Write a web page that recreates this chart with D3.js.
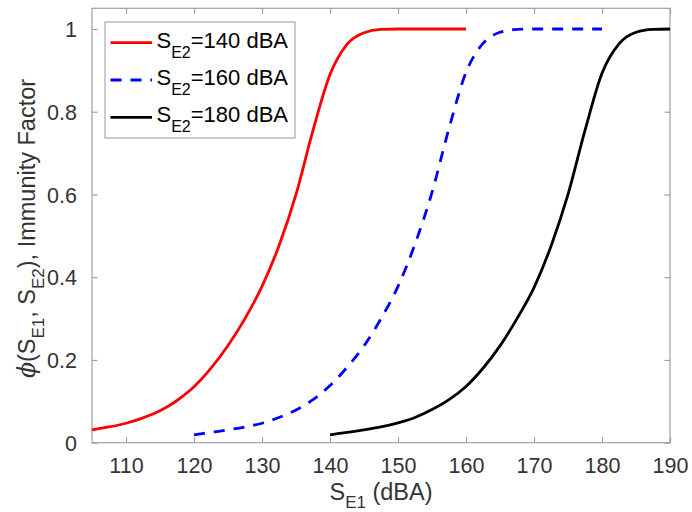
<!DOCTYPE html>
<html><head><meta charset="utf-8">
<script src="https://cdn.jsdelivr.net/npm/d3@7"></script>
<style>body{margin:0;background:#fff}</style>
</head><body><svg id="c" width="692" height="512"></svg>
<script>
const xTicks=[110,120,130,140,150,160,170,180,190];
const yTicks=[0,0.2,0.4,0.6,0.8,1];
const yTickLabels=["0","0.2","0.4","0.6","0.8","1"];
const seriesLabels=["140","160","180"];
const seriesColors=["#ff0000","#0000ff","#000000"];
const se140X=[105,107.5,110,112.5,115,117.5,120,122.5,125,127.5,130,132.5,135,137.5,140,142.5,145,147.5,150,152.5,155,157.5,160];
const se140Y=[0.031,0.038,0.047,0.060,0.077,0.102,0.135,0.180,0.235,0.300,0.378,0.476,0.600,0.755,0.890,0.963,0.991,0.999,1,1,1,1,1];
const se160X=[120,122.5,125,127.5,130,132.5,135,137.5,140,142.5,145,147.5,150,152.5,155,157.5,160,162.5,165,167.5,170,172.5,175,177.5,180];
const se160Y=[0.019,0.025,0.031,0.038,0.047,0.061,0.079,0.104,0.138,0.182,0.234,0.300,0.378,0.480,0.605,0.760,0.895,0.965,0.992,0.999,1,1,1,1,1];
const se180X=[140,142.5,145,147.5,150,152.5,155,157.5,160,162.5,165,167.5,170,172.5,175,177.5,180,182.5,185,187.5,190];
const se180Y=[0.019,0.025,0.031,0.038,0.048,0.061,0.080,0.104,0.136,0.180,0.234,0.300,0.375,0.475,0.600,0.755,0.893,0.964,0.992,0.999,1];

const svg=d3.select("#c");
const L=92,R=670,T=8.3,B=442.7;
const x=d3.scaleLinear().domain([105,190]).range([L,R]);
const y=d3.scaleLinear().domain([0,1.05]).range([B,T]);
const axisCol="#a0a0a0", txtCol="#333";
const font="'Liberation Sans', Arial, Helvetica, sans-serif";

svg.append("rect").attr("x",L).attr("y",T).attr("width",R-L).attr("height",B-T)
  .attr("fill","none").attr("stroke",axisCol).attr("stroke-width",1.2);

const tl=5.5;
const gx=svg.append("g").attr("transform",`translate(0,${B})`)
  .call(d3.axisBottom(x).tickValues(xTicks).tickSizeInner(-tl).tickSizeOuter(0).tickPadding(15).tickFormat(d3.format("d")));
const gxt=svg.append("g").attr("transform",`translate(0,${T})`)
  .call(d3.axisTop(x).tickValues(xTicks).tickSizeInner(-tl).tickSizeOuter(0).tickFormat(""));
const gy=svg.append("g").attr("transform",`translate(${L},0)`)
  .call(d3.axisLeft(y).tickValues(yTicks).tickSizeInner(-tl).tickSizeOuter(0).tickPadding(15).tickFormat((d,i)=>yTickLabels[i]));
const gyr=svg.append("g").attr("transform",`translate(${R},0)`)
  .call(d3.axisRight(y).tickValues(yTicks).tickSizeInner(-tl).tickSizeOuter(0).tickFormat(""));
[gx,gxt,gy,gyr].forEach(g=>{
  g.attr("font-size",null).attr("font-family",null);
  g.select(".domain").remove();
  g.selectAll(".tick line").attr("stroke",axisCol).attr("stroke-width",1.2);
  g.selectAll("text").attr("fill",txtCol).attr("font-family",font).attr("font-size",21.5);
});
gy.selectAll("text").attr("dy","0.36em");
gx.selectAll("text").attr("dy","0.71em");

const line=d3.line().x(d=>x(d[0])).y(d=>y(d[1])).curve(d3.curveMonotoneX);
const series=[
  {xs:se140X,ys:se140Y,dash:null},
  {xs:se160X,ys:se160Y,dash:"11,9"},
  {xs:se180X,ys:se180Y,dash:null}
];
series.forEach((s,i)=>{
  svg.append("path").datum(s.xs.map((v,j)=>[v,s.ys[j]]))
    .attr("d",line).attr("fill","none").attr("stroke",seriesColors[i])
    .attr("stroke-width",2.8).attr("stroke-dasharray",s.dash);
});

const lg=svg.append("g");
lg.append("rect").attr("x",105).attr("y",22).attr("width",190).attr("height",116)
  .attr("fill","#fff").attr("stroke","#999").attr("stroke-width",1);
seriesLabels.forEach((lab,i)=>{
  const cy=42.7+i*37.3;
  lg.append("line").attr("x1",110.5).attr("x2",152).attr("y1",cy).attr("y2",cy)
    .attr("stroke",seriesColors[i]).attr("stroke-width",2.8).attr("stroke-dasharray",series[i].dash);
  const t=lg.append("text").attr("x",156.5).attr("y",cy+5).attr("fill","#000")
    .attr("font-family",font).attr("font-size",22);
  t.append("tspan").text("S");
  t.append("tspan").attr("dy",10).attr("font-size",16).text("E2");
  t.append("tspan").attr("dy",-10).text("="+lab+" dBA");
});

const xl=svg.append("text").attr("x",(L+R)/2).attr("y",499.5).attr("text-anchor","middle")
  .attr("fill",txtCol).attr("font-family",font).attr("font-size",23.5);
xl.append("tspan").text("S");
xl.append("tspan").attr("dy",8).attr("font-size",17).text("E1");
xl.append("tspan").attr("dy",-8).text(" (dBA)");

const yl=svg.append("text").attr("transform",`translate(35,${(T+B)/2+3}) rotate(-90)`)
  .attr("text-anchor","middle").attr("fill",txtCol).attr("font-family",font).attr("font-size",23.5);
yl.append("tspan").attr("font-family","'DejaVu Serif', serif").attr("font-style","italic").text("ϕ");
yl.append("tspan").text("(S");
yl.append("tspan").attr("dy",9).attr("font-size",17).text("E1");
yl.append("tspan").attr("dy",-9).text(", S");
yl.append("tspan").attr("dy",9).attr("font-size",17).text("E2");
yl.append("tspan").attr("dy",-9).text("), Immunity Factor");
</script></body></html>
